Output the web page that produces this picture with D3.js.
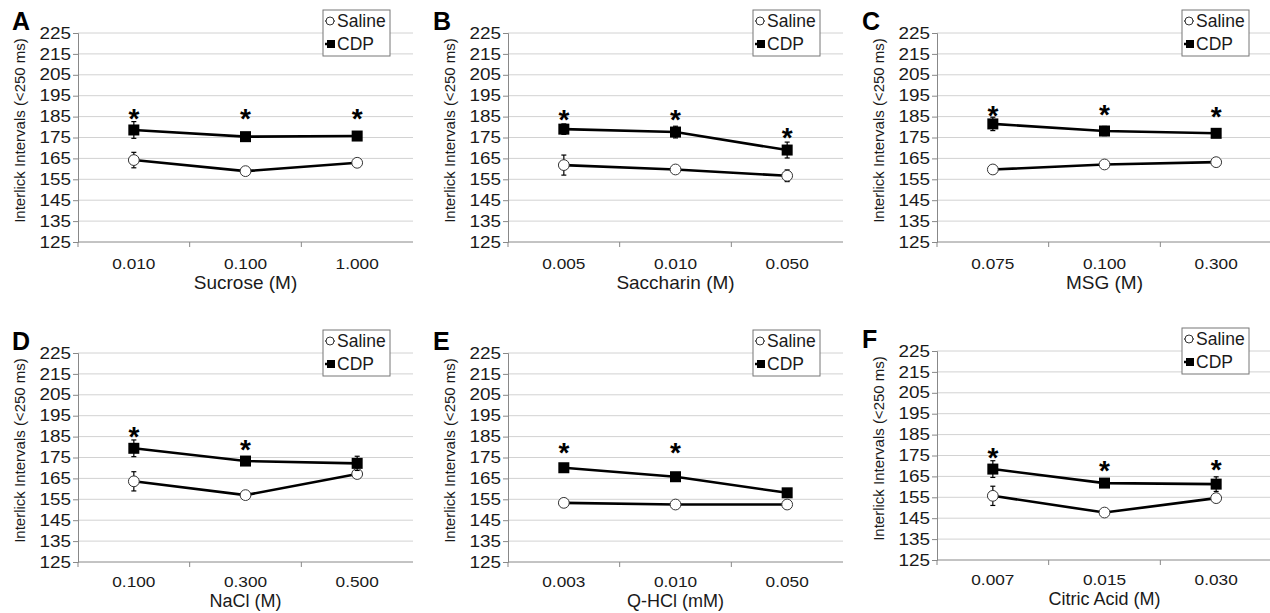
<!DOCTYPE html>
<html>
<head>
<meta charset="utf-8">
<script src="https://cdn.jsdelivr.net/npm/d3@7"></script>
<style>
  body { margin: 0; background: #fff; }
  svg { display: block; font-family: "Liberation Sans", Arial, sans-serif; }
</style>
</head>
<body>
<div class="chartBox"></div>
<script>
// panel data, one entry per panel (A-F)
var letters = ['A', 'B', 'C', 'D', 'E', 'F'];
var xTitles = ['Sucrose (M)', 'Saccharin (M)', 'MSG (M)', 'NaCl (M)', 'Q-HCl (mM)', 'Citric Acid (M)'];
var concLabels = [
    ['0.010', '0.100', '1.000'],
    ['0.005', '0.010', '0.050'],
    ['0.075', '0.100', '0.300'],
    ['0.100', '0.300', '0.500'],
    ['0.003', '0.010', '0.050'],
    ['0.007', '0.015', '0.030']
];
var salineMean = [
    [164.2, 158.9, 162.9],
    [161.8, 159.7, 156.7],
    [159.7, 162.1, 163.2],
    [163.6, 157.0, 167.1],
    [153.3, 152.5, 152.5],
    [155.7, 147.7, 154.6]
];
var salineErr = [
    [3.7, 1.2, 1.2],
    [4.8, 1.5, 2.8],
    [1.5, 1.2, 1.2],
    [4.6, 1.2, 1.2],
    [1.8, 1.2, 1.8],
    [4.6, 1.2, 2.0]
];
var cdpMean = [
    [178.6, 175.4, 175.7],
    [179.0, 177.6, 169.0],
    [181.5, 178.1, 177.0],
    [179.4, 173.3, 172.2],
    [170.1, 165.8, 158.1],
    [168.5, 161.8, 161.3]
];
var cdpErr = [
    [4.0, 1.3, 1.3],
    [2.5, 2.8, 3.8],
    [3.2, 2.2, 1.2],
    [4.0, 1.4, 3.4],
    [1.8, 1.8, 1.8],
    [4.0, 2.0, 3.5]
];
// height of the significance asterisk (null = none)
var starY = [
    [187.4, 187.4, 187.4],
    [186.9, 186.9, 178.3],
    [188.5, 189.0, 188.2],
    [188.2, 181.8, null],
    [180.5, 180.5, null],
    [177.3, 170.9, 171.2]
];
var yTicks = d3.range(125, 226, 10);
var seriesNames = ['Saline', 'CDP'];

// layout
var panelLeft = [78, 508, 937, 78, 508, 937];
var panelTop = [33, 33, 33, 353, 353, 351];
var plotW = 335, plotH = 209;
var ink = '#1a1a1a';

var svg = d3.select('.chartBox')
    .append('svg')
    .attr('width', 1270)
    .attr('height', 613);

letters.forEach(function (letter, p) {
    var top = p < 3;
    var g = svg.append('g')
        .attr('transform', 'translate(' + panelLeft[p] + ',' + panelTop[p] + ')');

    var x = d3.scaleBand().domain(d3.range(3)).range([0, plotW]).padding(0);
    var y = d3.scaleLinear().domain([125, 225]).range([plotH, 0]);
    var cx = function (i) { return x(i) + x.bandwidth() / 2; };

    // gridlines
    g.selectAll('.grid')
        .data(yTicks.slice(1))
        .enter().append('line')
        .attr('x1', 0).attr('x2', plotW)
        .attr('y1', d => y(d)).attr('y2', d => y(d))
        .attr('stroke', '#d2d2d2')
        .attr('stroke-width', 1);

    // y axis
    var yAxis = g.append('g')
        .call(d3.axisLeft(y).tickValues(yTicks).tickSize(5).tickPadding(1));
    yAxis.select('.domain').attr('stroke', '#888');
    yAxis.selectAll('.tick line').attr('stroke', '#888');
    yAxis.selectAll('.tick text')
        .attr('fill', ink)
        .attr('transform', 'scale(1.18,1)')
        .style('font-size', '16px');

    // x axis: line + ticks on category boundaries
    g.append('line')
        .attr('x1', 0).attr('x2', plotW)
        .attr('y1', plotH).attr('y2', plotH)
        .attr('stroke', '#888');
    g.selectAll('.xtick')
        .data(d3.range(3))
        .enter().append('line')
        .attr('x1', d => x(d)).attr('x2', d => x(d))
        .attr('y1', plotH).attr('y2', plotH + 5)
        .attr('stroke', '#888');

    g.selectAll('.xlabel')
        .data(concLabels[p])
        .enter().append('text')
        .attr('transform', (d, i) => 'translate(' + cx(i) + ',' + (plotH + (top ? 27 : 25)) + ') scale(1.15,1)')
        .attr('text-anchor', 'middle')
        .attr('fill', ink)
        .style('font-size', '15px')
        .text(d => d);

    g.append('text')
        .attr('x', plotW / 2)
        .attr('y', plotH + (top ? 47 : 45))
        .attr('text-anchor', 'middle')
        .attr('fill', ink)
        .style('font-size', top ? '19px' : '18px')
        .text(xTitles[p]);

    g.append('text')
        .attr('transform', 'translate(-58,' + (plotH / 2 - 7) + ') rotate(-90)')
        .attr('text-anchor', 'middle')
        .attr('dy', '0.35em')
        .attr('fill', ink)
        .style('font-size', '15px')
        .text('Interlick Intervals (<250 ms)');

    g.append('text')
        .attr('x', p % 3 === 0 ? -66 : -75)
        .attr('y', -3)
        .attr('fill', '#000')
        .style('font-size', '25px')
        .style('font-weight', 'bold')
        .text(letter);

    var line = d3.line()
        .x((d, i) => cx(i))
        .y(d => y(d));

    // series: saline (open circles), cdp (filled squares)
    [[salineMean[p], salineErr[p]], [cdpMean[p], cdpErr[p]]].forEach(function (s, k) {
        var means = s[0], errs = s[1];

        g.append('path')
            .datum(means)
            .attr('d', line)
            .attr('fill', 'none')
            .attr('stroke', '#000')
            .attr('stroke-width', 2.6);

        var eb = g.selectAll('.eb' + k)
            .data(means)
            .enter().append('g');
        eb.append('line')
            .attr('x1', (d, i) => cx(i)).attr('x2', (d, i) => cx(i))
            .attr('y1', (d, i) => y(d + errs[i])).attr('y2', (d, i) => y(d - errs[i]))
            .attr('stroke', '#000').attr('stroke-width', 1.2);
        [1, -1].forEach(function (sg) {
            eb.append('line')
                .attr('x1', (d, i) => cx(i) - 2.5).attr('x2', (d, i) => cx(i) + 2.5)
                .attr('y1', (d, i) => y(d + sg * errs[i])).attr('y2', (d, i) => y(d + sg * errs[i]))
                .attr('stroke', '#000').attr('stroke-width', 1.2);
        });

        if (k === 0) {
            g.selectAll('.pt0')
                .data(means)
                .enter().append('circle')
                .attr('cx', (d, i) => cx(i))
                .attr('cy', d => y(d))
                .attr('r', 5.4)
                .attr('fill', '#fff')
                .attr('stroke', '#333')
                .attr('stroke-width', 1);
        } else {
            g.selectAll('.pt1')
                .data(means)
                .enter().append('rect')
                .attr('x', (d, i) => cx(i) - 5.5)
                .attr('y', d => y(d) - 5.5)
                .attr('width', 11).attr('height', 11)
                .attr('fill', '#000');
        }
    });

    // significance asterisks
    g.selectAll('.star')
        .data(starY[p].map((v, i) => ({ v: v, i: i })).filter(d => d.v !== null))
        .enter().append('text')
        .attr('x', d => cx(d.i))
        .attr('y', d => y(d.v) + 16)
        .attr('text-anchor', 'middle')
        .attr('fill', '#000')
        .style('font-size', '28px')
        .style('font-weight', 'bold')
        .text('*');

    // legend
    var lg = g.append('g').attr('transform', 'translate(245,-23)');
    lg.append('rect')
        .attr('width', 67).attr('height', 46)
        .attr('fill', '#fff')
        .attr('stroke', '#777');
    seriesNames.forEach(function (name, k) {
        var ly = k === 0 ? 11 : 34;
        lg.append('line')
            .attr('x1', 2).attr('x2', 12)
            .attr('y1', ly).attr('y2', ly)
            .attr('stroke', '#000').attr('stroke-width', k === 0 ? 1 : 2.5);
        if (k === 0) {
            lg.append('circle')
                .attr('cx', 7).attr('cy', ly).attr('r', 4)
                .attr('fill', '#fff').attr('stroke', '#333');
        } else {
            lg.append('rect')
                .attr('x', 4).attr('y', ly - 4)
                .attr('width', 8).attr('height', 8)
                .attr('fill', '#000');
        }
        lg.append('text')
            .attr('x', 14).attr('y', ly)
            .attr('dy', '0.36em')
            .attr('fill', ink)
            .style('font-size', '17.5px')
            .text(name);
    });
});
</script>
</body>
</html>
